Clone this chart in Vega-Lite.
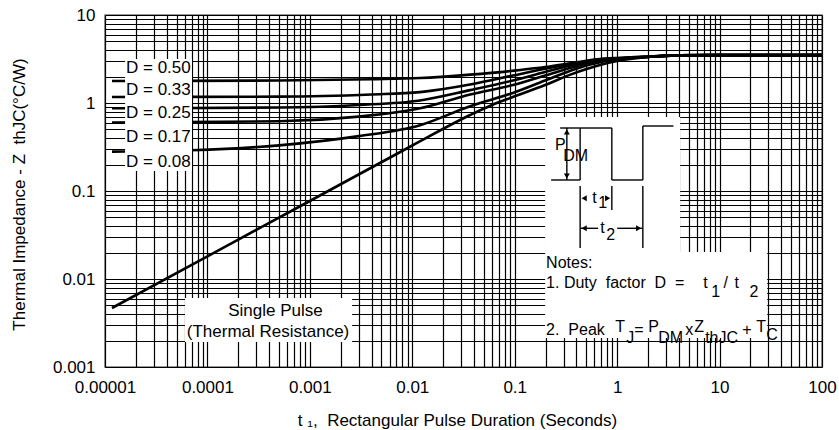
{
  "$schema": "https://vega.github.io/schema/vega-lite/v6.json",
  "width": 717,
  "height": 352,
  "autosize": {"type": "none"},
  "padding": {"left": 105, "top": 15, "right": 17, "bottom": 63},
  "background": "white",
  "config": {
    "font": "Liberation Sans",
    "view": {"stroke": "#7a7a7a", "strokeWidth": 1.5},
    "axis": {"labelColor": "#000", "titleColor": "#000", "titleFontWeight": "normal"}
  },
  "datasets": {
    "curves": [
      {"series": "Single", "t": 0.0000117, "z": 0.00468},
      {"series": "Single", "t": 0.0001, "z": 0.0181},
      {"series": "Single", "t": 0.001, "z": 0.077},
      {"series": "Single", "t": 0.01, "z": 0.329},
      {"series": "Single", "t": 0.0367, "z": 0.73},
      {"series": "Single", "t": 0.06, "z": 0.95},
      {"series": "Single", "t": 0.096, "z": 1.17},
      {"series": "Single", "t": 0.198, "z": 1.6},
      {"series": "Single", "t": 0.35, "z": 2.1},
      {"series": "Single", "t": 0.68, "z": 2.7},
      {"series": "Single", "t": 1, "z": 3.0},
      {"series": "Single", "t": 2.1, "z": 3.36},
      {"series": "Single", "t": 4, "z": 3.48},
      {"series": "Single", "t": 10, "z": 3.5},
      {"series": "Single", "t": 100, "z": 3.5},
      {"series": "D=0.50", "t": 0.0000117, "z": 1.78},
      {"series": "D=0.50", "t": 0.0005, "z": 1.8},
      {"series": "D=0.50", "t": 0.004, "z": 1.86},
      {"series": "D=0.50", "t": 0.0119, "z": 1.92},
      {"series": "D=0.50", "t": 0.0367, "z": 2.1},
      {"series": "D=0.50", "t": 0.113, "z": 2.37},
      {"series": "D=0.50", "t": 0.198, "z": 2.56},
      {"series": "D=0.50", "t": 0.4, "z": 2.9},
      {"series": "D=0.50", "t": 0.68, "z": 3.15},
      {"series": "D=0.50", "t": 1, "z": 3.25},
      {"series": "D=0.50", "t": 2.1, "z": 3.38},
      {"series": "D=0.50", "t": 4, "z": 3.48},
      {"series": "D=0.50", "t": 10, "z": 3.5},
      {"series": "D=0.50", "t": 100, "z": 3.5},
      {"series": "D=0.33", "t": 0.0000117, "z": 1.17},
      {"series": "D=0.33", "t": 0.0005, "z": 1.18},
      {"series": "D=0.33", "t": 0.004, "z": 1.25},
      {"series": "D=0.33", "t": 0.0119, "z": 1.33},
      {"series": "D=0.33", "t": 0.0367, "z": 1.62},
      {"series": "D=0.33", "t": 0.096, "z": 2.05},
      {"series": "D=0.33", "t": 0.198, "z": 2.45},
      {"series": "D=0.33", "t": 0.4, "z": 2.85},
      {"series": "D=0.33", "t": 0.68, "z": 3.12},
      {"series": "D=0.33", "t": 1, "z": 3.23},
      {"series": "D=0.33", "t": 2.1, "z": 3.37},
      {"series": "D=0.33", "t": 4, "z": 3.48},
      {"series": "D=0.33", "t": 10, "z": 3.5},
      {"series": "D=0.33", "t": 100, "z": 3.5},
      {"series": "D=0.25", "t": 0.0000117, "z": 0.87},
      {"series": "D=0.25", "t": 0.0005, "z": 0.89},
      {"series": "D=0.25", "t": 0.003, "z": 0.95},
      {"series": "D=0.25", "t": 0.0119, "z": 1.07},
      {"series": "D=0.25", "t": 0.0367, "z": 1.4},
      {"series": "D=0.25", "t": 0.096, "z": 1.8},
      {"series": "D=0.25", "t": 0.198, "z": 2.25},
      {"series": "D=0.25", "t": 0.4, "z": 2.75},
      {"series": "D=0.25", "t": 0.68, "z": 3.08},
      {"series": "D=0.25", "t": 1, "z": 3.2},
      {"series": "D=0.25", "t": 2.1, "z": 3.36},
      {"series": "D=0.25", "t": 4, "z": 3.48},
      {"series": "D=0.25", "t": 10, "z": 3.5},
      {"series": "D=0.25", "t": 100, "z": 3.5},
      {"series": "D=0.17", "t": 0.0000117, "z": 0.6},
      {"series": "D=0.17", "t": 0.0005, "z": 0.62},
      {"series": "D=0.17", "t": 0.003, "z": 0.7},
      {"series": "D=0.17", "t": 0.0119, "z": 0.87},
      {"series": "D=0.17", "t": 0.0367, "z": 1.25},
      {"series": "D=0.17", "t": 0.096, "z": 1.6},
      {"series": "D=0.17", "t": 0.198, "z": 2.05},
      {"series": "D=0.17", "t": 0.4, "z": 2.62},
      {"series": "D=0.17", "t": 0.68, "z": 3.02},
      {"series": "D=0.17", "t": 1, "z": 3.17},
      {"series": "D=0.17", "t": 2.1, "z": 3.36},
      {"series": "D=0.17", "t": 4, "z": 3.48},
      {"series": "D=0.17", "t": 10, "z": 3.5},
      {"series": "D=0.17", "t": 100, "z": 3.5},
      {"series": "D=0.08", "t": 0.0000117, "z": 0.28},
      {"series": "D=0.08", "t": 0.00007, "z": 0.29},
      {"series": "D=0.08", "t": 0.0005, "z": 0.33},
      {"series": "D=0.08", "t": 0.003, "z": 0.42},
      {"series": "D=0.08", "t": 0.0119, "z": 0.56},
      {"series": "D=0.08", "t": 0.0367, "z": 0.92},
      {"series": "D=0.08", "t": 0.096, "z": 1.3},
      {"series": "D=0.08", "t": 0.198, "z": 1.8},
      {"series": "D=0.08", "t": 0.4, "z": 2.45},
      {"series": "D=0.08", "t": 0.68, "z": 2.9},
      {"series": "D=0.08", "t": 1, "z": 3.12},
      {"series": "D=0.08", "t": 2.1, "z": 3.35},
      {"series": "D=0.08", "t": 4, "z": 3.48},
      {"series": "D=0.08", "t": 10, "z": 3.5},
      {"series": "D=0.08", "t": 100, "z": 3.5}
    ],
    "boxes": [
      {"t": 0.0000157, "t2": 0.0000707, "z": 3.162, "z2": 0.1688},
      {"t": 0.0000604, "t2": 0.002583, "z": 0.006083, "z2": 0.001924},
      {"t": 0.1981, "t2": 4.124, "z": 0.6934, "z2": 0.02027},
      {"t": 0.1981, "t2": 29.16, "z": 0.02027, "z2": 0.002135}
    ],
    "segs": [
      {"t": 0.2267, "t2": 0.4352, "z": 0.1334, "z2": 0.1334},
      {"t": 0.4352, "t2": 0.4352, "z": 0.1334, "z2": 0.5198},
      {"t": 0.4352, "t2": 0.8875, "z": 0.5198, "z2": 0.5198},
      {"t": 0.8875, "t2": 0.8875, "z": 0.5198, "z2": 0.1334},
      {"t": 0.8875, "t2": 1.782, "z": 0.1334, "z2": 0.1334},
      {"t": 1.782, "t2": 1.782, "z": 0.1334, "z2": 0.5478},
      {"t": 1.782, "t2": 3.546, "z": 0.5478, "z2": 0.5478},
      {"t": 0.2776, "t2": 0.4352, "z": 0.5198, "z2": 0.5198},
      {"t": 0.3228, "t2": 0.3228, "z": 0.5198, "z2": 0.1334},
      {"t": 0.4352, "t2": 0.4352, "z": 0.114, "z2": 0.02251},
      {"t": 0.8875, "t2": 0.8875, "z": 0.114, "z2": 0.06082},
      {"t": 1.782, "t2": 1.782, "z": 0.114, "z2": 0.02251},
      {"t": 0.4352, "t2": 0.6523, "z": 0.03768, "z2": 0.03768},
      {"t": 1.0, "t2": 1.782, "z": 0.03768, "z2": 0.03768}
    ],
    "arrows": [
      {"t": 0.3228, "z": 0.468, "dir": "up"},
      {"t": 0.3228, "z": 0.1481, "dir": "down"},
      {"t": 0.4761, "z": 0.0826, "dir": "left"},
      {"t": 0.8079, "z": 0.0826, "dir": "right"},
      {"t": 0.4761, "z": 0.03768, "dir": "left"},
      {"t": 1.622, "z": 0.03768, "dir": "right"}
    ],
    "dlabels": [
      {"label": "D = 0.50", "t": 0.00001604, "z": 2.498},
      {"label": "D = 0.33", "t": 0.00001604, "z": 1.405},
      {"label": "D = 0.25", "t": 0.00001604, "z": 0.7697},
      {"label": "D = 0.17", "t": 0.00001604, "z": 0.4108},
      {"label": "D = 0.08", "t": 0.00001604, "z": 0.2136}
    ],
    "sptext": [
      {"label": "Single Pulse", "t": 0.000462, "z": 0.004328},
      {"label": "(Thermal Resistance)", "t": 0.0003906, "z": 0.002498}
    ],
    "notes": [
      {"label": "Notes:", "t": 0.2026, "z": 0.0152},
      {"label": "1. Duty\u00a0 factor\u00a0 D\u00a0 =", "t": 0.2026, "z": 0.009006},
      {"label": "t", "t": 6.915, "z": 0.009006},
      {"label": "1", "t": 8.3, "z": 0.007118},
      {"label": "/", "t": 10.9, "z": 0.009006},
      {"label": "t", "t": 14.0, "z": 0.009006},
      {"label": "2", "t": 19.6, "z": 0.007118},
      {"label": "2.\u00a0 Peak", "t": 0.2026, "z": 0.002633},
      {"label": "T", "t": 0.956, "z": 0.002848},
      {"label": "J", "t": 1.224, "z": 0.002135},
      {"label": "=", "t": 1.466, "z": 0.002633},
      {"label": "P", "t": 2.008, "z": 0.002848},
      {"label": "DM", "t": 2.514, "z": 0.002135},
      {"label": "x", "t": 4.614, "z": 0.002633},
      {"label": "Z", "t": 5.649, "z": 0.002848},
      {"label": "thJC", "t": 7.234, "z": 0.002135},
      {"label": "+", "t": 16.62, "z": 0.002633},
      {"label": "T", "t": 22.78, "z": 0.002848},
      {"label": "C", "t": 28.51, "z": 0.00231},
      {"label": "P", "t": 0.248, "z": 0.3332},
      {"label": "DM", "t": 0.2971, "z": 0.2498},
      {"label": "t", "t": 0.57, "z": 0.0826},
      {"label": "1", "t": 0.6523, "z": 0.07305},
      {"label": "t", "t": 0.6823, "z": 0.03768},
      {"label": "2", "t": 0.7809, "z": 0.03162}
    ]
  },
  "encoding": {
    "x": {
      "field": "t", "type": "quantitative",
      "scale": {"type": "log", "domain": [0.00001, 100], "nice": false},
      "axis": {
        "title": "t\u00a0₁,\u00a0 Rectangular Pulse Duration (Seconds)",
        "titleFontSize": 17, "titleX": 352, "titleY": 58, "titleBaseline": "alphabetic", "titleAlign": "center",
        "values": [0.00001,0.00002,0.00003,0.00004,0.00005,0.00006,0.00007,0.00008,0.00009,
                   0.0001,0.0002,0.0003,0.0004,0.0005,0.0006,0.0007,0.0008,0.0009,
                   0.001,0.002,0.003,0.004,0.005,0.006,0.007,0.008,0.009,
                   0.01,0.02,0.03,0.04,0.05,0.06,0.07,0.08,0.09,
                   0.1,0.2,0.3,0.4,0.5,0.6,0.7,0.8,0.9,
                   1,2,3,4,5,6,7,8,9,
                   10,20,30,40,50,60,70,80,90,100],
        "format": "~g",
        "labelExpr": "abs(log(datum.value)/LN10 - round(log(datum.value)/LN10)) < 0.001 ? datum.label : ''",
        "labelOverlap": false, "labelFlush": false,
        "labelFontSize": 17, "labelBaseline": "alphabetic", "labelPadding": 25,
        "ticks": false, "domain": false,
        "grid": true, "gridColor": "#000", "gridWidth": 1.2, "gridOpacity": 1
      }
    },
    "y": {
      "field": "z", "type": "quantitative",
      "scale": {"type": "log", "domain": [0.001, 10], "nice": false},
      "axis": {
        "title": "Thermal Impedance - Z\u00a0\u00a0thJC(°C/W)",
        "titleFontSize": 17, "titleX": -81, "titleY": 179, "titleBaseline": "alphabetic", "titleAlign": "center", "titleAngle": -90,
        "values": [0.001,0.002,0.003,0.004,0.005,0.006,0.007,0.008,0.009,
                   0.01,0.02,0.03,0.04,0.05,0.06,0.07,0.08,0.09,
                   0.1,0.2,0.3,0.4,0.5,0.6,0.7,0.8,0.9,
                   1,2,3,4,5,6,7,8,9,10],
        "format": "~g",
        "labelExpr": "abs(log(datum.value)/LN10 - round(log(datum.value)/LN10)) < 0.001 ? datum.label : ''",
        "labelOverlap": false, "labelFlush": false,
        "labelFontSize": 17, "labelPadding": 10,
        "ticks": false, "domain": false,
        "grid": true, "gridColor": "#000", "gridWidth": 1.2, "gridOpacity": 1
      }
    }
  },
  "layer": [
    {
      "data": {"name": "curves"},
      "mark": {"type": "line", "color": "#000", "strokeWidth": 2.6, "interpolate": "monotone"},
      "encoding": {"detail": {"field": "series", "type": "nominal"}}
    },
    {
      "data": {"name": "boxes"},
      "mark": {"type": "rect", "fill": "white", "strokeWidth": 0},
      "encoding": {"x2": {"field": "t2"}, "y2": {"field": "z2"}}
    },
    {
      "data": {"name": "segs"},
      "mark": {"type": "rule", "color": "#000", "strokeWidth": 1.4},
      "encoding": {"x2": {"field": "t2"}, "y2": {"field": "z2"}}
    },
    {
      "data": {"name": "arrows"},
      "mark": {"type": "point", "filled": true, "color": "#000", "size": 36, "opacity": 1},
      "encoding": {
        "shape": {"field": "dir", "type": "nominal", "legend": null,
                  "scale": {"domain": ["up", "down", "left", "right"], "range": ["triangle-up", "triangle-down", "triangle-left", "triangle-right"]}}
      }
    },
    {
      "data": {"name": "dlabels"},
      "mark": {"type": "text", "align": "left", "baseline": "middle", "fontSize": 17, "color": "#000"},
      "encoding": {"text": {"field": "label"}}
    },
    {
      "data": {"name": "sptext"},
      "mark": {"type": "text", "align": "center", "baseline": "middle", "fontSize": 17, "color": "#000"},
      "encoding": {"text": {"field": "label"}}
    },
    {
      "data": {"name": "notes"},
      "mark": {"type": "text", "align": "left", "baseline": "middle", "fontSize": 16, "color": "#000"},
      "encoding": {"text": {"field": "label"}}
    }
  ]
}
